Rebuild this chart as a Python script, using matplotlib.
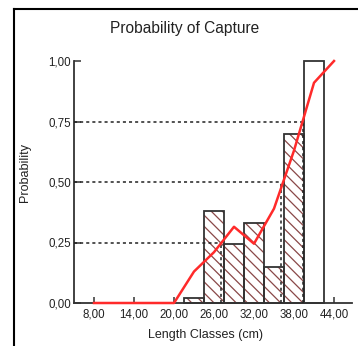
import matplotlib
matplotlib.use("Agg")
import matplotlib.pyplot as plt
from matplotlib.lines import Line2D

# =====================================
# Data
# =====================================

class_mid = [23, 26, 29, 32, 35, 38, 41]
observed = [0.02, 0.38, 0.243, 0.33, 0.15, 0.70, 1.00]
hatched = [True, True, True, True, True, True, False]

curve_x = [8, 11, 14, 17, 20, 23, 26, 29, 32, 35, 38, 41, 44]
curve_y = [0, 0, 0, 0, 0, 0.13, 0.21, 0.315, 0.245, 0.39, 0.63, 0.91, 1.00]

levels = [0.25, 0.50, 0.75]
l_values = [27.0, 36.0, 39.4]

xticks = [8, 14, 20, 26, 32, 38, 44]
yticks = [0, 0.25, 0.5, 0.75, 1.0]

# =====================================
# Style
# =====================================

plt.rcParams["font.family"] = ["Liberation Sans", "DejaVu Sans"]
plt.rcParams["hatch.linewidth"] = 0.9

fig = plt.figure(figsize=(3.58, 3.46), dpi=100)
ax = fig.add_axes([74 / 358, 43 / 346, 278 / 358, 242 / 346])

# =====================================
# Bars (hatch layer, then outline)
# =====================================

for x, h, hat in zip(class_mid, observed, hatched):
    if hat:
        ax.bar(x, h, width=3, facecolor="white", edgecolor="#8a4848",
               linewidth=0, hatch="\\\\\\", clip_on=False, zorder=2)
    ax.bar(x, h, width=3, facecolor="none", edgecolor="#333333",
           linewidth=1.3, clip_on=False, zorder=2.5)

# =====================================
# Reference lines (L25, L50, L75)
# =====================================

for p, l in zip(levels, l_values):
    ax.plot([5, l], [p, p], color="#222222", linestyle=(0, (2, 2)),
            linewidth=1.1, zorder=3)
    ax.plot([l, l], [0, p], color="#222222", linestyle=(0, (2, 2)),
            linewidth=1.1, zorder=3)

# =====================================
# Fitted curve
# =====================================

ax.plot(curve_x, curve_y, color="#ff2a2a", linewidth=1.8, clip_on=False,
        zorder=4)

# =====================================
# Axes
# =====================================

ax.set_xlim(5, 46.7)
ax.set_ylim(0, 1.0)
ax.spines["top"].set_visible(False)
ax.spines["right"].set_visible(False)
ax.spines["left"].set_color("#333333")
ax.spines["bottom"].set_color("#333333")
ax.spines["left"].set_linewidth(1.3)
ax.spines["bottom"].set_linewidth(1.3)

ax.set_xticks(xticks)
ax.set_xticklabels([f"{v:.2f}".replace(".", ",") for v in xticks])
ax.set_yticks(yticks)
ax.set_yticklabels([f"{v:.2f}".replace(".", ",") for v in yticks])
ax.tick_params(axis="x", direction="in", length=4, width=1.1, pad=4,
               labelsize=8.3, colors="#333333", labelcolor="#222222")
ax.tick_params(axis="y", direction="in", length=5, width=1.1, pad=2,
               labelsize=8.3, colors="#333333", labelcolor="#222222")

fig.text(206 / 358, 1 - 335 / 346, "Length Classes (cm)", ha="center",
         va="center", fontsize=9, color="#222222")
fig.text(25 / 358, 1 - 172 / 346, "Probability", ha="center", va="center",
         rotation=90, fontsize=9, color="#222222")
fig.text(185 / 358, 1 - 28 / 346, "Probability of Capture", ha="center",
         va="center", fontsize=11.2, color="#222222")

# frame border
fig.add_artist(Line2D([14 / 358, 14 / 358], [0, 1 - 9 / 346],
                      transform=fig.transFigure, color="black", linewidth=1.5))
fig.add_artist(Line2D([14 / 358, 1], [1 - 9 / 346, 1 - 9 / 346],
                      transform=fig.transFigure, color="black", linewidth=1.5))

fig.savefig("out.png", dpi=100)
